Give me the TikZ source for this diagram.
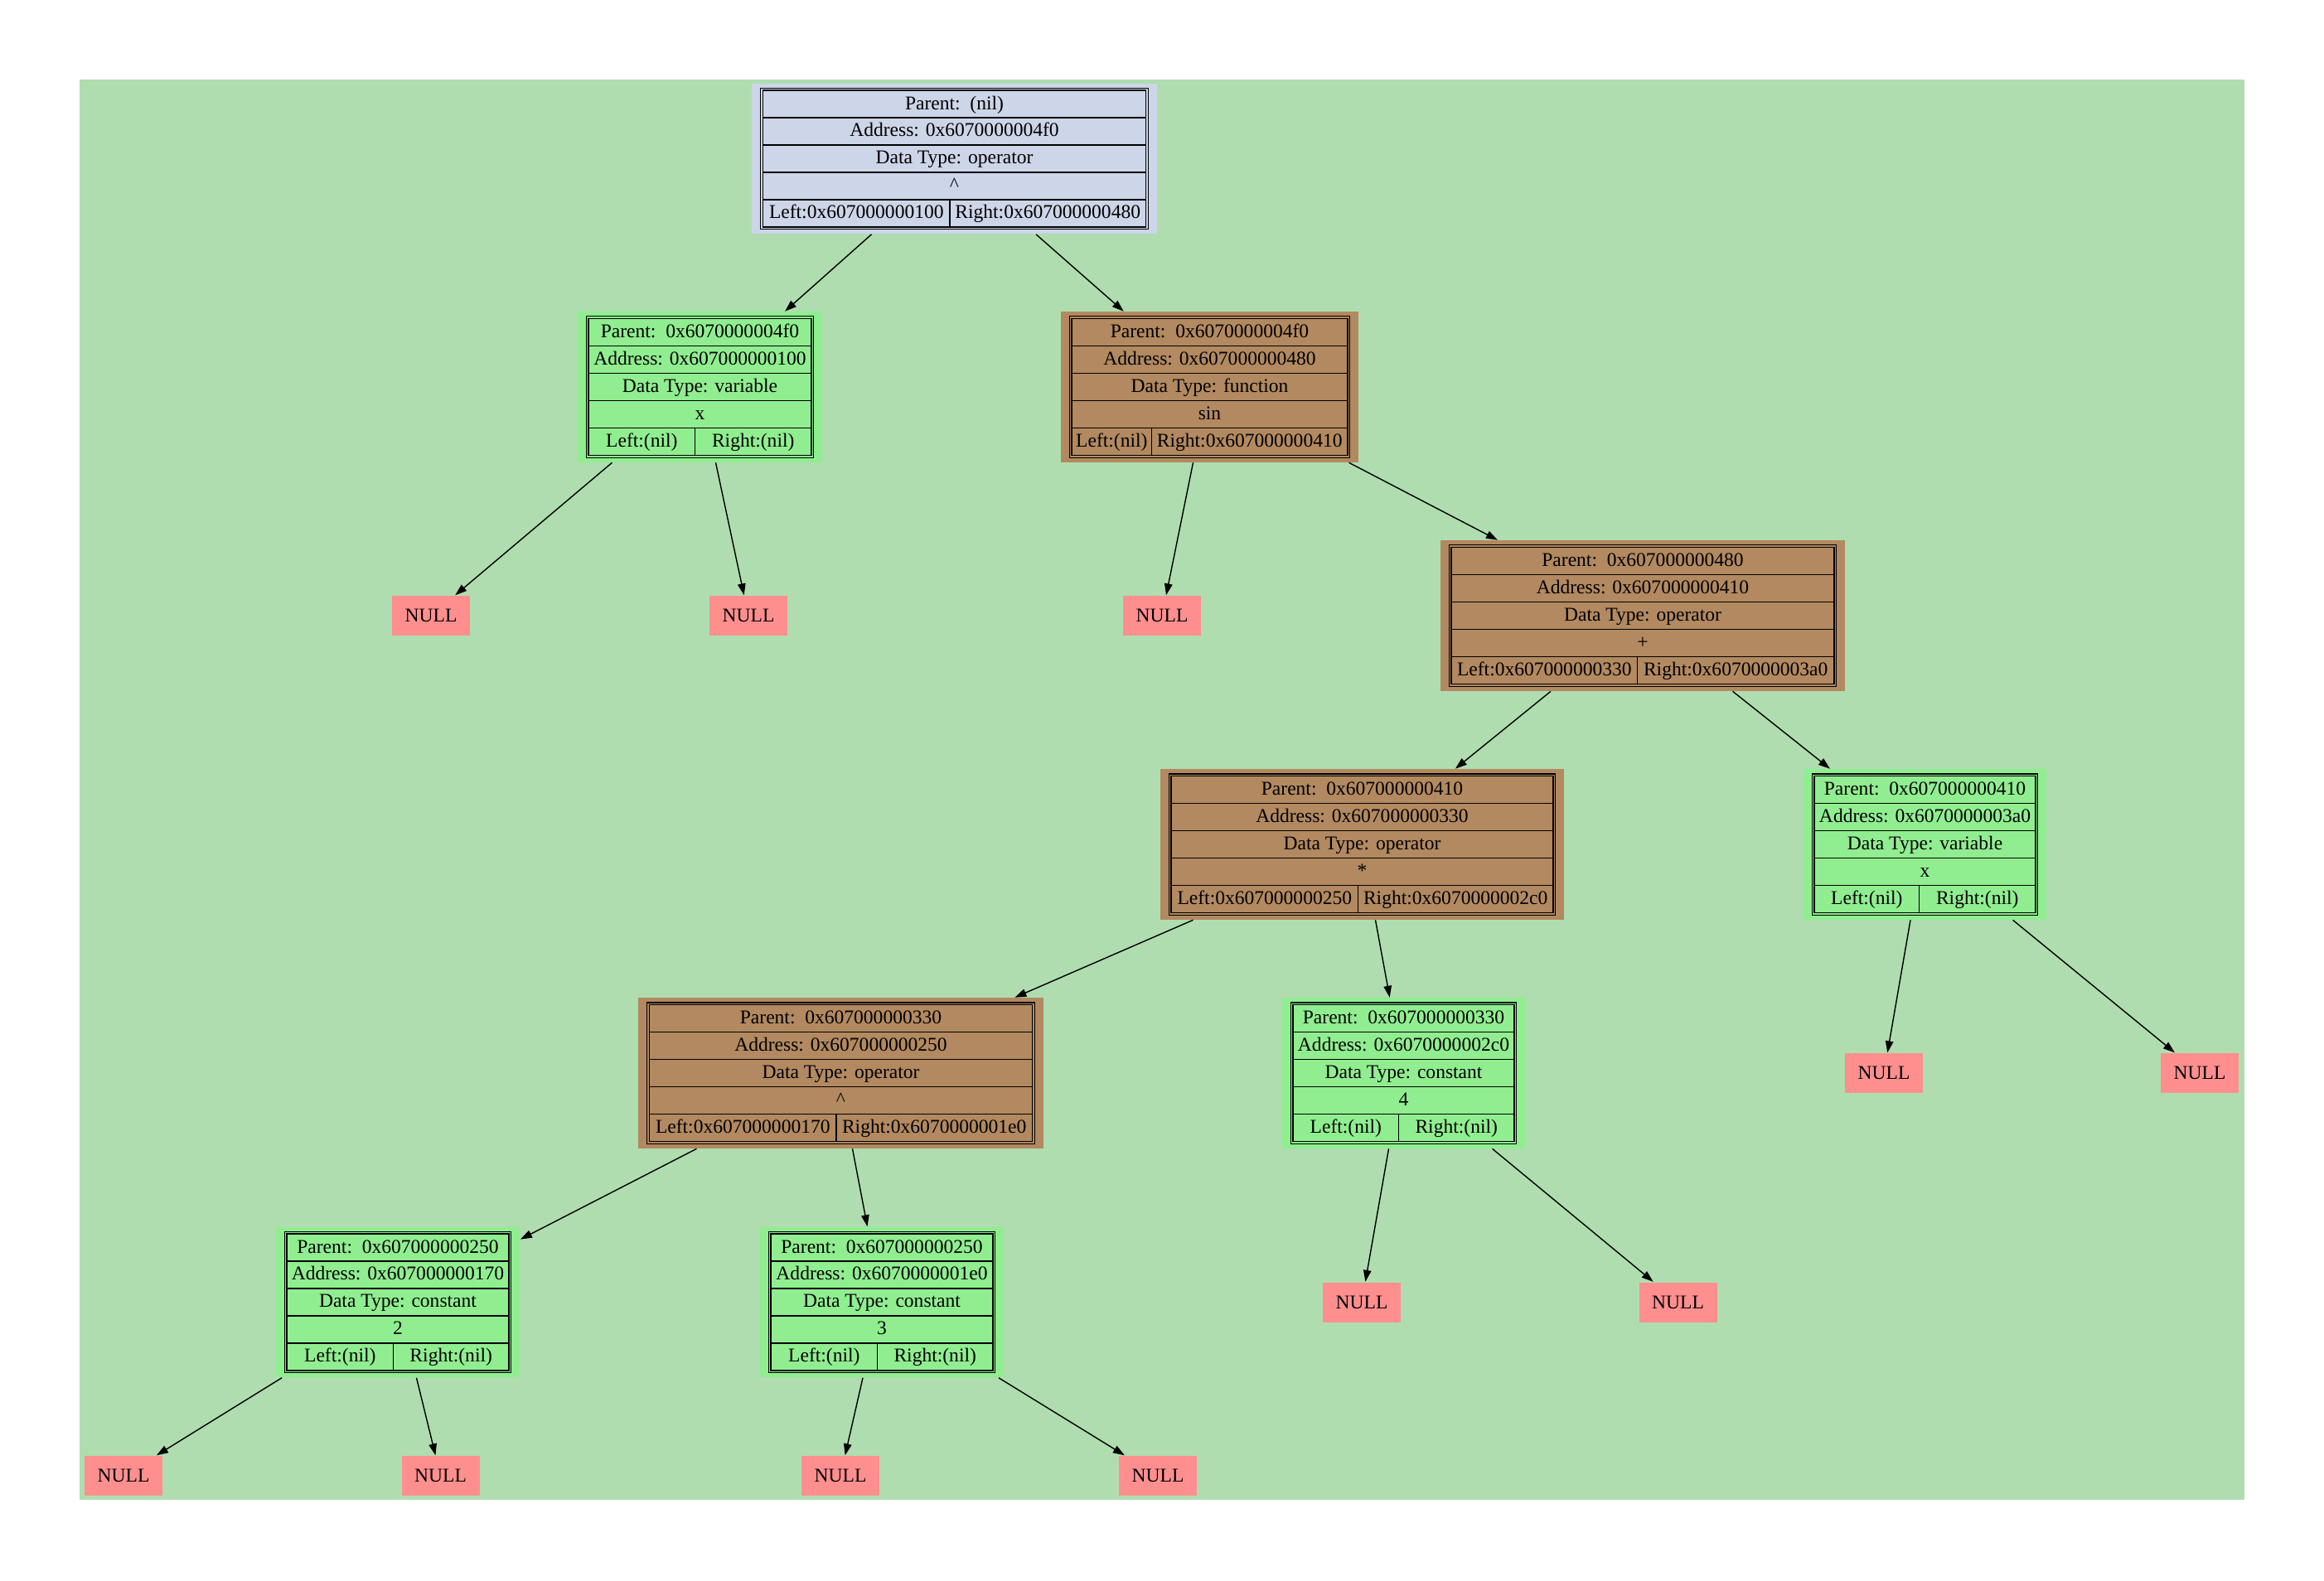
\documentclass[tikz,border=0pt]{standalone}
\usepackage{fontspec}
\setmainfont{Liberation Serif}
\usepackage{array}
\usetikzlibrary{arrows.meta}
\definecolor{bgc}{RGB}{175,221,175}
\definecolor{lav}{RGB}{205,213,232}
\definecolor{lgr}{RGB}{144,238,144}
\definecolor{brn}{RGB}{178,137,96}
\definecolor{nul}{RGB}{255,143,143}
\setlength{\tabcolsep}{0pt}
\setlength{\arrayrulewidth}{0.4pt}
\renewcommand{\arraystretch}{1.12}
% record table: left width, right width, parent, address, type, value, left, right
\newcommand{\rec}[8]{{\setlength{\fboxsep}{0.35pt}\setlength{\fboxrule}{0.3pt}%
  \fbox{\setlength{\fboxsep}{0pt}\setlength{\fboxrule}{0.5pt}\fbox{%
  \begin{tabular}{w{c}{#1}|w{c}{#2}}
  \multicolumn{2}{c}{Parent:~~#3}\\\hline
  \multicolumn{2}{c}{Address: #4}\\\hline
  \multicolumn{2}{c}{Data Type: #5}\\\hline
  \multicolumn{2}{c}{#6}\\\hline
  #7 & #8
  \end{tabular}}}}}
\tikzset{
  rec/.style={inner xsep=0.1cm,inner ysep=0.05cm,font=\fontsize{6.7}{8}\selectfont},
  rootrec/.style={rec,fill=lav},
  oprec/.style={rec,fill=brn},
  leafrec/.style={rec,fill=lgr},
  nullbox/.style={fill=nul,minimum width=0.94cm,minimum height=0.48cm,inner sep=0pt,font=\fontsize{6.7}{8}\selectfont},
  link/.style={-{Triangle[length=0.14cm,width=0.095cm]},line width=0.4pt},
}
\begin{document}
\begin{tikzpicture}
\useasboundingbox (0,0) rectangle (28.04,-19.07);
\fill[bgc] (0.96,-0.96) rectangle (27.08,-18.10);

% tree nodes
\node[rootrec] (n4f0) at (11.515,-1.915) {\rec{2.24cm}{2.35cm}{(nil)}{0x6070000004f0}{operator}{\textasciicircum}{Left:0x607000000100}{Right:0x607000000480}};
\node[leafrec] (n100) at (8.445,-4.67) {\rec{1.27cm}{1.39cm}{0x6070000004f0}{0x607000000100}{variable}{x}{Left:(nil)}{Right:(nil)}};
\node[oprec] (n480) at (14.595,-4.67) {\rec{0.95cm}{2.35cm}{0x6070000004f0}{0x607000000480}{function}{sin}{Left:(nil)}{Right:0x607000000410}};
\node[oprec] (n410) at (19.82,-7.43) {\rec{2.23cm}{2.36cm}{0x607000000480}{0x607000000410}{operator}{+}{Left:0x607000000330}{Right:0x6070000003a0}};
\node[oprec] (n330) at (16.435,-10.19) {\rec{2.24cm}{2.34cm}{0x607000000410}{0x607000000330}{operator}{*}{Left:0x607000000250}{Right:0x6070000002c0}};
\node[leafrec] (n3a0) at (23.225,-10.19) {\rec{1.25cm}{1.39cm}{0x607000000410}{0x6070000003a0}{variable}{x}{Left:(nil)}{Right:(nil)}};
\node[oprec] (n250) at (10.145,-12.95) {\rec{2.24cm}{2.35cm}{0x607000000330}{0x607000000250}{operator}{\textasciicircum}{Left:0x607000000170}{Right:0x6070000001e0}};
\node[leafrec] (n2c0) at (16.935,-12.95) {\rec{1.26cm}{1.38cm}{0x607000000330}{0x6070000002c0}{constant}{4}{Left:(nil)}{Right:(nil)}};
\node[leafrec] (n170) at (4.80,-15.715) {\rec{1.27cm}{1.38cm}{0x607000000250}{0x607000000170}{constant}{2}{Left:(nil)}{Right:(nil)}};
\node[leafrec] (n1e0) at (10.64,-15.715) {\rec{1.27cm}{1.38cm}{0x607000000250}{0x6070000001e0}{constant}{3}{Left:(nil)}{Right:(nil)}};

% NULL leaves
\node[nullbox] (n100l) at (5.20,-7.43) {NULL};
\node[nullbox] (n100r) at (9.03,-7.43) {NULL};
\node[nullbox] (n480l) at (14.02,-7.43) {NULL};
\node[nullbox] (n3a0l) at (22.73,-12.95) {NULL};
\node[nullbox] (n3a0r) at (26.54,-12.95) {NULL};
\node[nullbox] (n2c0l) at (16.43,-15.715) {NULL};
\node[nullbox] (n2c0r) at (20.245,-15.715) {NULL};
\node[nullbox] (n170l) at (1.49,-17.81) {NULL};
\node[nullbox] (n170r) at (5.315,-17.81) {NULL};
\node[nullbox] (n1e0l) at (10.14,-17.81) {NULL};
\node[nullbox] (n1e0r) at (13.97,-17.81) {NULL};

% edges
\draw[link] ([xshift=-1.00cm]n4f0.south) -- (n100);
\draw[link] ([xshift=0.985cm]n4f0.south) -- (n480);
\draw[link] ([xshift=-1.06cm]n100.south) -- (n100l);
\draw[link] ([xshift=0.19cm]n100.south) -- (n100r);
\draw[link] ([xshift=-0.20cm]n480.south) -- (n480l);
\draw[link] ([xshift=1.68cm]n480.south) -- (n410);
\draw[link] ([xshift=-1.11cm]n410.south) -- (n330);
\draw[link] ([xshift=1.085cm]n410.south) -- (n3a0);
\draw[link] ([xshift=-2.04cm]n330.south) -- (n250);
\draw[link] ([xshift=0.16cm]n330.south) -- (n2c0);
\draw[link] ([xshift=-0.175cm]n3a0.south) -- (n3a0l);
\draw[link] ([xshift=1.06cm]n3a0.south) -- (n3a0r);
\draw[link] ([xshift=-1.74cm]n250.south) -- (n170);
\draw[link] ([xshift=0.14cm]n250.south) -- (n1e0);
\draw[link] ([xshift=-0.18cm]n2c0.south) -- (n2c0l);
\draw[link] ([xshift=1.07cm]n2c0.south) -- (n2c0r);
\draw[link] ([xshift=-1.40cm]n170.south) -- (n170l);
\draw[link] ([xshift=0.225cm]n170.south) -- (n170r);
\draw[link] ([xshift=-0.23cm]n1e0.south) -- (n1e0l);
\draw[link] ([xshift=1.41cm]n1e0.south) -- (n1e0r);
\end{tikzpicture}
\end{document}
